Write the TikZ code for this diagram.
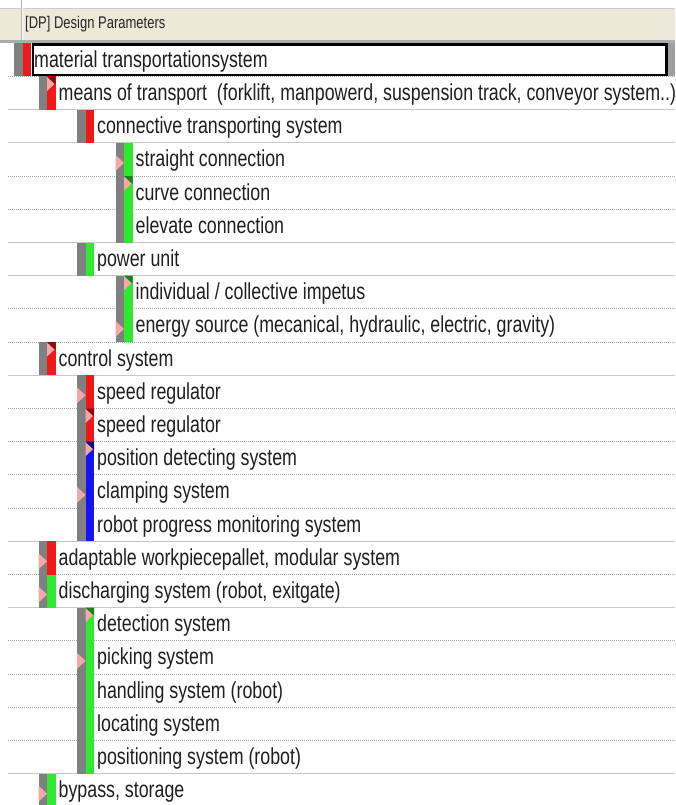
\documentclass[tikz,border=0pt]{standalone}
\usepackage{graphicx}
\usepackage{fontspec}
\setmainfont{Liberation Sans}
\usetikzlibrary{calc, backgrounds}
\definecolor{hdrbeige}{HTML}{ECE9D8}
\definecolor{barred}{HTML}{F01818}
\definecolor{bargreen}{HTML}{30E830}
\definecolor{barblue}{HTML}{1414F0}
\definecolor{bargray}{HTML}{808080}
\definecolor{tripink}{HTML}{F4A8A8}
\definecolor{rowline}{HTML}{C8C8C8}
\tikzset{
  rowtext/.style={anchor=base west, inner sep=0pt, text=black!88,
    font=\fontsize{17.8}{20}\selectfont},
  hdrtext/.style={anchor=base west, inner sep=0pt, text=black!85,
    font=\fontsize{13}{15}\selectfont},
  solidsep/.style={rowline, line width=1.2},
  dotsep/.style={rowline!85!black, line width=0.9, dash pattern=on 1pt off 1pt},
  nonesep/.style={draw=none}
}
% screenshot text is stretched vertically
\newcommand{\tall}[1]{\scalebox{1}[1.3]{#1}}
% marker kinds: n = none, g = on gray bar, c = top of colour bar
\newcommand{\dptrin}{}
\newcommand{\dptrig}{\fill[tripink] (\gx,\rowtop+12) -- (\gx+8.5,\rowtop+20) -- (\gx,\rowtop+28) -- cycle;}
\newcommand{\dptric}{%
  \fill[\col!55!black] (\gx+8.5,\rowtop) -- (\gx+17,\rowtop) -- (\gx+17,\rowtop+8) -- cycle;
  \fill[tripink] (\gx+8.5,\rowtop+0.5) -- (\gx+16,\rowtop+7.5) -- (\gx+8.5,\rowtop+14.5) -- cycle;}

\begin{document}
\begin{tikzpicture}[x=1pt, y=-1pt]
\useasboundingbox (0,0) rectangle (675,805);
% header
\fill[hdrbeige] (0,8) rectangle (675,40);
\draw[gray!40, line width=0.8] (0,8) -- (675,8);
\fill[gray!65] (0,40) rectangle (675,43);
\draw[gray!60, line width=1] (21,0) -- (21,40);
\draw[white, line width=1] (22,0) -- (22,40);
\node[hdrtext] (hdr) at (25,29) {\tall{[DP] Design Parameters}};
\fill[gray!75] (667,43) rectangle (675,76);
% rows
\foreach \i/\lv/\col/\tri/\sep/\txt in {
  1/0/barred/n/dot/{material transportationsystem},
  2/1/barred/c/solid/{means of transport\ \ (forklift, manpowerd, suspension track, conveyor system..)},
  3/2/barred/n/solid/{connective transporting system},
  4/3/bargreen/g/dot/{straight connection},
  5/3/bargreen/c/dot/{curve connection},
  6/3/bargreen/n/solid/{elevate connection},
  7/2/bargreen/n/solid/{power unit},
  8/3/bargreen/c/dot/{individual / collective impetus},
  9/3/bargreen/g/dot/{energy source (mecanical, hydraulic, electric, gravity)},
  10/1/barred/c/solid/{control system},
  11/2/barred/g/dot/{speed regulator},
  12/2/barred/c/dot/{speed regulator},
  13/2/barblue/c/dot/{position detecting system},
  14/2/barblue/g/dot/{clamping system},
  15/2/barblue/n/solid/{robot progress monitoring system},
  16/1/barred/g/dot/{adaptable workpiecepallet, modular system},
  17/1/bargreen/g/solid/{discharging system (robot, exitgate)},
  18/2/bargreen/c/dot/{detection system},
  19/2/bargreen/g/dot/{picking system},
  20/2/bargreen/n/dot/{handling system (robot)},
  21/2/bargreen/n/dot/{locating system},
  22/2/bargreen/n/solid/{positioning system (robot)},
  23/1/bargreen/g/none/{bypass, storage}}
{
  \pgfmathsetmacro\rowtop{43.3+(\i-1)*33.2}
  \pgfmathsetmacro\gx{{14,38.5,77,115.5}[\lv]}
  \begin{pgfonlayer}{background}
    \draw[\sep sep] (8,\rowtop+33.2) -- (675,\rowtop+33.2);
  \end{pgfonlayer}
  \fill[bargray] (\gx,\rowtop) rectangle (\gx+8.5,\rowtop+33.2);
  \fill[\col] (\gx+8.5,\rowtop) rectangle (\gx+17,\rowtop+33.2);
  \csname dptri\tri\endcsname
  \node[rowtext] (r\i) at (\gx+20,\rowtop+24) {\tall{\txt}};
}
% selected row
\draw[black, line width=2.6] (33,44.6) rectangle (666.5,75.2);
\end{tikzpicture}
\end{document}
